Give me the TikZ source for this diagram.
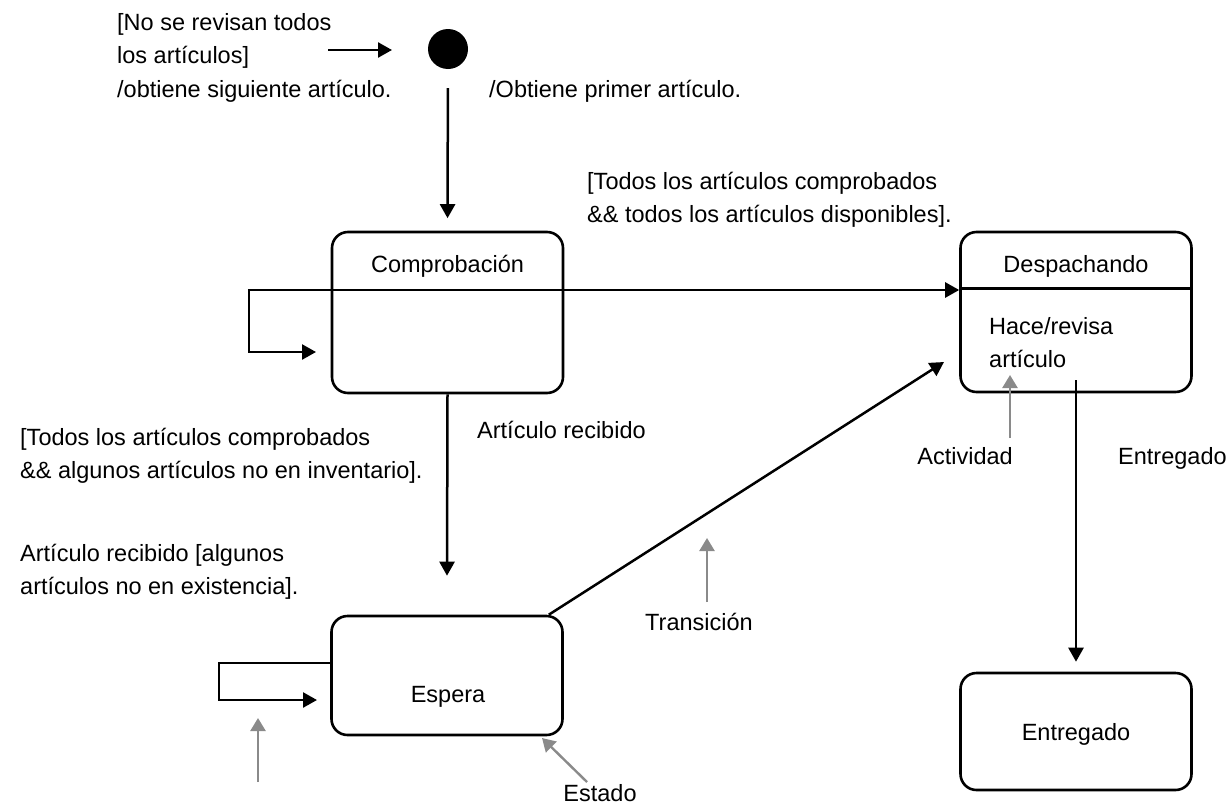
\documentclass[tikz,border=0pt]{standalone}
\usepackage{fontspec}
\setmainfont{Liberation Sans}
\usetikzlibrary{arrows.meta}
\definecolor{notegray}{RGB}{138,138,138}
\begin{document}
\begin{tikzpicture}[x=1pt,y=-1pt,
  every node/.style={font=\fontsize{23.5}{34}\selectfont, inner sep=0pt},
  state/.style={draw, line width=2.6pt, rounded corners=16pt, minimum width=231pt, minimum height=#1},
  lbl/.style={anchor=base west},
  flow/.style={line width=2.5pt, -{Triangle[length=14pt,width=15pt]}},
  note/.style={color=notegray, line width=2.4pt, -{Triangle[length=13pt,width=15pt]}}
]
\useasboundingbox (0,0) rectangle (1231,806);

% states
\node[circle, fill, minimum size=40pt] (init) at (448,49) {};
\node[state=161pt] (comp) at (447.5,312.5) {};
\node[state=160pt] (desp) at (1076,312) {};
\node[state=119pt] (esp) at (447,675.5) {};
\node[state=117pt] (entr) at (1076,731.5) {};
\draw[line width=2.6pt] ([yshift=-58pt]desp.north west) -- ([yshift=-58pt]desp.north east);

% state names and activity
\node[anchor=base] (compT) at (447.5,272) {Comprobación};
\node[anchor=base] (despT) at (1076,272) {Despachando};
\node[anchor=base] (espT) at (448,702) {Espera};
\node[anchor=base] (entrT) at (1076,740) {Entregado};
\node[lbl] (act1) at (989,334) {Hace/revisa};
\node[lbl] (act2) at (989,367) {artículo};

% transition labels
\node[lbl] (g1) at (117,30) {[No se revisan todos};
\node[lbl] (g2) at (117,63) {los artículos]};
\node[lbl] (g3) at (117,97) {/obtiene siguiente artículo.};
\node[lbl] (e1) at (489,97) {/Obtiene primer artículo.};
\node[lbl] (h1) at (587,189) {[Todos los artículos comprobados};
\node[lbl] (h2) at (587,222) {\&\& todos los artículos disponibles].};
\node[lbl] (k1) at (20,445) {[Todos los artículos comprobados};
\node[lbl] (k2) at (20,478) {\&\& algunos artículos no en inventario].};
\node[lbl] (r1) at (477,438) {Artículo recibido};
\node[lbl] (w1) at (20,561) {Artículo recibido [algunos};
\node[lbl] (w2) at (20,594) {artículos no en existencia].};
\node[lbl] (entl) at (1118,464) {Entregado};

% annotation labels
\node[anchor=base east] (actl) at (1013,464) {Actividad};
\node[anchor=base] (trl) at (699,630) {Transición};
\node[anchor=base] (estl) at (600,801) {Estado};

% transitions
\coordinate (fa) at (328,50);
\coordinate (fb) at (392,50);
\draw[flow] (fa) -- (fb);
\draw[flow, shorten <=19pt, shorten >=12.5pt] (init) -- (comp.north);

\coordinate (cl) at (249,290);
\coordinate (clb) at (316,352);
\draw[flow] ([xshift=-1.25pt]cl) -- (cl -| desp.west);
\draw[flow] (cl) |- (clb);

\draw[flow] (comp.south) -- ([yshift=39pt]esp.north);

\coordinate (elc) at (219,663);
\coordinate (elt) at (317,700);
\draw[flow] (esp.west |- elc) -- (elc) |- (elt);

\coordinate (dt) at (944,362);
\draw[flow] ([xshift=-15pt]esp.north east) -- (dt);

\draw[flow] ([yshift=13pt]desp.south) -- ([yshift=10pt]entr.north);

% annotation pointers
\coordinate (na1) at (1010,438);
\coordinate (na2) at (1010,375);
\draw[note] (na1) -- (na2);
\coordinate (nt1) at (707,602);
\coordinate (nt2) at (707,538);
\draw[note] (nt1) -- (nt2);
\coordinate (ns1) at (587,782);
\coordinate (ns2) at (542,738);
\draw[note] (ns1) -- (ns2);
\coordinate (nl1) at (258,782);
\coordinate (nl2) at (258,718);
\draw[note] (nl1) -- (nl2);
\end{tikzpicture}
\end{document}
